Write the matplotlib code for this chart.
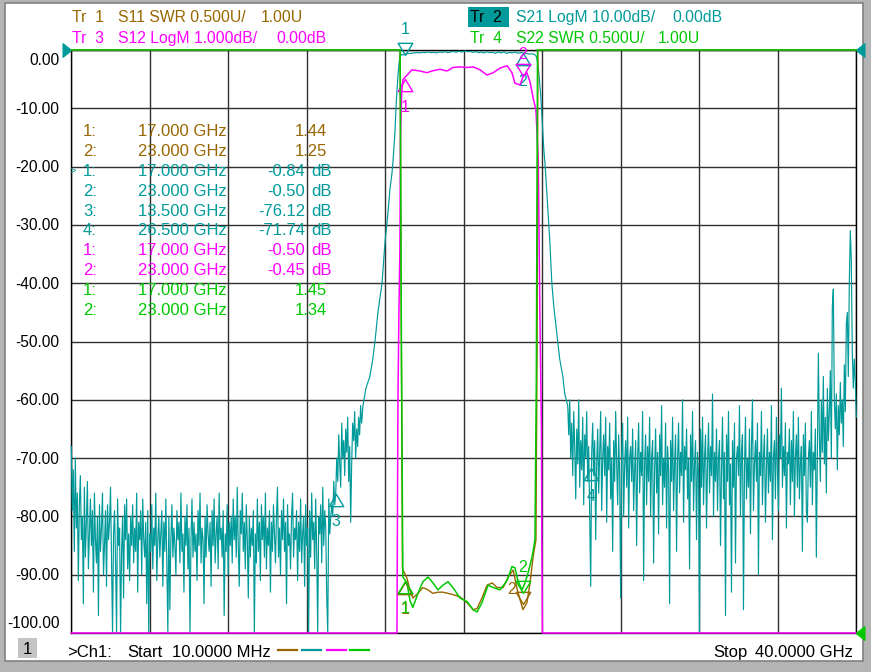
import numpy as np
import matplotlib
matplotlib.use("Agg")
import matplotlib.pyplot as plt
from matplotlib.path import Path
from matplotlib.lines import Line2D
from matplotlib.patches import Rectangle

plt.rcParams['font.family'] = ['Liberation Sans', 'DejaVu Sans']

# ---------------- data ----------------
F_START, F_STOP = 0.01, 40.0          # GHz
S21_REF, S21_DIV = 0.0, 10.0          # dB
S12_REF, S12_DIV = 0.0, 1.0           # dB
SWR_REF, SWR_DIV = 1.0, 0.5           # U

# S21 (LogM, dB) -- low band noise floor
s21_low = [
    -68, -79, -72, -86, -70, -82, -76, -91, -78, -73,
    -84, -80, -95, -75, -87, -81, -74, -89, -83, -77,
    -85, -79, -93, -76, -84, -88, -80, -97, -78, -86,
    -82, -76, -90, -85, -79, -92, -78, -84, -81, -75,
    -87, -104, -83, -79, -88, -104, -77, -85, -82, -104,
    -86, -80, -94, -78, -84, -77, -89, -83, -91, -80,
    -85, -78, -88, -82, -86, -76, -93, -81, -84, -79,
    -90, -77, -84, -87, -81, -95, -79, -104, -83, -86,
    -78, -89, -82, -85, -76, -91, -84, -80, -87, -83,
    -79, -92, -81, -86, -77, -88, -104, -80, -96, -84,
    -78, -87, -82, -85, -90, -79, -84, -81, -88, -76,
    -86, -83, -93, -80, -85, -78, -89, -82, -104, -84,
    -77, -87, -81, -86, -83, -91, -79, -85, -76, -88,
    -82, -84, -95, -80, -87, -78, -83, -86, -81, -92,
    -79, -85, -77, -88, -83, -80, -89, -76, -84, -82,
    -87, -79, -97, -83, -86, -78, -90, -81, -85, -80,
    -88, -77, -84, -80, -87, -75, -85, -92, -79, -83,
    -76, -86, -81, -89, -78, -84, -94, -80, -87, -82,
    -85, -79, -104, -83, -88, -77, -86, -81, -91, -78,
    -84, -80, -87, -76, -89, -82, -85, -79, -93, -81,
    -86, -78, -83, -88, -80, -75, -87, -82, -90, -79,
    -84, -77, -86, -81, -95, -78, -85, -83, -89, -80,
    -76, -87, -82, -84, -79, -91, -81, -86, -77, -88,
    -83, -80, -92, -78, -85, -82, -104, -79, -87, -76,
    -84, -81, -89, -77, -86, -104, -80, -83, -78, -88,
    -75, -85, -79, -82, -94, -104, -77, -83, -80, -78,
]
s21_low_f = (0.01, 13.28)
# step region below the lower skirt
s21_step = [-80, -74, -78, -76, -70, -74, -66, -71, -75, -64,
            -70, -67, -73, -65, -69, -63, -74, -68, -81, -71,
            -64, -67, -62, -70, -65, -68, -63, -66, -61, -64]
s21_step_f = (13.33, 14.80)
# lower skirt
s21_lskirt_f = [14.87, 15.02, 15.22, 15.37, 15.48, 15.63, 15.84, 15.99, 16.14, 16.24,
                16.35, 16.40, 16.50, 16.55, 16.60, 16.65, 16.70, 16.75, 16.82]
s21_lskirt = [-61, -58, -56, -53, -50, -45, -40, -33, -28, -24,
              -21, -19, -14, -10, -7, -4.5, -2.5, -1.2, -0.8]
# passband
s21_pass = [-0.85, -0.7, -0.6, -0.55, -0.5, -0.45, -0.5, -0.4, -0.45, -0.35,
            -0.45, -0.4, -0.5, -0.35, -0.4, -0.3, -0.45, -0.35, -0.25, -0.4,
            -0.2, -0.35, -0.15, -0.3, -0.25, -0.4, -0.3, -0.45, -0.35, -0.5,
            -0.3, -0.45, -0.4, -0.55, -0.35, -0.5, -0.3, -0.6, -0.4, -0.5,
            -0.35, -0.55, -0.45, -0.5, -0.6, -0.7, -0.65, -0.8]
s21_pass_f = (16.90, 23.62)
# upper skirt
s21_uskirt_f = [23.68, 23.73, 23.78, 23.83, 23.88, 23.93, 23.98, 24.03, 24.08, 24.13,
                24.19, 24.29, 24.39, 24.49, 24.59, 24.69, 24.79, 24.89, 25.05, 25.15]
s21_uskirt = [-1.0, -1.5, -2.5, -4, -6, -8, -11, -14, -17, -19,
              -22, -27.5, -33, -40, -44, -47, -50, -53, -56, -59]
# high band noise floor
s21_high = [
    -61, -66, -60, -70, -64, -73, -62, -68, -77, -65,
    -71, -60, -75, -67, -72, -63, -78, -66, -70, -62,
    -74, -68, -80, -92, -69, -64, -73, -67, -84, -71,
    -65, -76, -69, -62, -79, -70, -66, -73, -63, -81,
    -68, -72, -64, -77, -70, -86, -67, -74, -62, -71,
    -78, -66, -73, -94, -69, -64, -80, -71, -67, -75,
    -63, -82, -70, -68, -74, -65, -79, -72, -67, -85,
    -70, -64, -76, -69, -73, -62, -91, -71, -66, -78,
    -68, -74, -63, -80, -70, -67, -88, -72, -65, -76,
    -69, -83, -66, -73, -61, -78, -70, -75, -64, -82,
    -68, -72, -95, -67, -74, -63, -79, -71, -66, -86,
    -70, -64, -76, -69, -73, -60, -81, -68, -72, -65,
    -77, -70, -89, -66, -74, -62, -79, -71, -67, -84,
    -69, -73, -100, -65, -75, -63, -78, -70, -66, -82,
    -71, -64, -76, -68, -73, -59, -80, -69, -74, -65,
    -79, -70, -67, -85, -72, -63, -77, -69, -97, -66,
    -74, -62, -78, -71, -93, -67, -75, -64, -88, -70,
    -68, -73, -61, -80, -69, -66, -96, -72, -63, -77,
    -70, -75, -65, -83, -68, -60, -79, -71, -67, -74,
    -64, -90, -69, -73, -62, -78, -70, -66, -81, -72,
    -65, -76, -69, -74, -61, -84, -70, -67, -77, -63,
    -72, -79, -66, -70, -58, -75, -68, -73, -64, -82,
    -69, -71, -65, -78, -67, -74, -62, -80, -70, -66,
    -75, -63, -77, -71, -68, -86, -66, -73, -64, -79,
    -81, -70, -67, -75, -62, -78, -69, -72, -65, -87,
    -70, -52, -66, -74, -60, -69, -56, -71, -63, -76,
    -58, -67, -62, -55, -70, -44, -41, -60, -65, -59,
    -72, -61, -66, -57, -64, -60, -68, -54, -62, -47,
    -45, -56, -40, -31, -36, -52, -58, -53, -57, -63,
]
s21_high_f = (25.30, 40.0)

# S12 (LogM, dB)
s12_f = [0.01, 16.60, 16.65, 16.70, 16.75, 16.78, 16.84, 16.90, 17.36, 17.77,
         18.13, 18.38, 18.79, 19.15, 19.45, 19.81, 20.17, 20.48, 20.83, 21.19,
         21.50, 21.85, 22.21, 22.46, 22.61, 22.87, 23.02, 23.22, 23.38, 23.53,
         23.68, 23.73, 23.80, 23.88, 23.96, 23.98, 24.01, 40.0]
s12_db = [-30, -30, -6.0, -4.5, -3.4, -1.5, -0.71, -0.51, -0.34, -0.36,
          -0.39, -0.36, -0.33, -0.36, -0.30, -0.29, -0.30, -0.29, -0.34, -0.43,
          -0.39, -0.31, -0.27, -0.39, -0.57, -0.60, -0.46, -0.39, -0.55, -0.81,
          -1.03, -1.4, -1.9, -4.5, -6.5, -8.4, -30, -30]

# S11 (SWR)
s11_f = [0.01, 16.76, 16.82, 16.88, 17.11, 17.26, 17.41, 17.67, 17.92, 18.18,
         18.43, 18.69, 18.94, 19.20, 19.45, 19.81, 20.17, 20.48, 20.68, 20.93,
         21.19, 21.45, 21.70, 22.01, 22.27, 22.52, 22.73, 22.88, 23.02, 23.22,
         23.38, 23.53, 23.68, 23.74, 23.78, 40.0]
s11_swr = [9, 9, 3.6, 1.55, 1.47, 1.37, 1.30, 1.34, 1.39, 1.37,
           1.34, 1.35, 1.35, 1.34, 1.33, 1.31, 1.26, 1.20, 1.21, 1.30,
           1.41, 1.43, 1.39, 1.39, 1.48, 1.54, 1.37, 1.28, 1.20, 1.26,
           1.43, 1.65, 1.80, 3.5, 9, 9]

# S22 (SWR)
s22_f = [0.01, 16.76, 16.83, 16.90, 17.11, 17.26, 17.41, 17.67, 17.92, 18.18,
         18.43, 18.69, 18.94, 19.20, 19.45, 19.81, 20.17, 20.48, 20.68, 20.93,
         21.24, 21.50, 21.85, 22.21, 22.46, 22.61, 22.76, 22.97, 23.12, 23.27,
         23.48, 23.63, 23.70, 23.76, 40.0]
s22_swr = [9, 9, 3.4, 1.48, 1.43, 1.28, 1.22, 1.34, 1.44, 1.48,
           1.43, 1.37, 1.41, 1.44, 1.39, 1.30, 1.27, 1.20, 1.18, 1.26,
           1.41, 1.39, 1.37, 1.45, 1.57, 1.56, 1.45, 1.37, 1.43, 1.51,
           1.65, 1.80, 3.2, 9, 9]

# markers
mk_s11_f, mk_s11_v = [17.0, 23.0], [1.44, 1.25]
mk_s21_f, mk_s21_v = [17.0, 23.0, 13.5, 26.5], [-0.84, -0.50, -76.12, -71.74]
mk_s12_f, mk_s12_v = [17.0, 23.0], [-0.50, -0.45]
mk_s22_f, mk_s22_v = [17.0, 23.0], [1.45, 1.34]

ytick_vals = [0, -10, -20, -30, -40, -50, -60, -70, -80, -90, -100]

# ---------------- style ----------------
BROWN = '#986600'
TEAL = '#009A9A'
MAG = '#FF00FF'
GREEN = '#00C800'
GRIDC = '#303030'

W, H = 871, 672
fig = plt.figure(figsize=(W / 100, H / 100), dpi=100)
fig.patch.set_facecolor('#b4b4b4')
fig.add_artist(Rectangle((5 / W, 1 - 661 / H), 858 / W, 658 / H, transform=fig.transFigure,
                         facecolor='white', edgecolor='#808080', lw=1.2, zorder=0))


def ftext(x, yc, s, size, color, ha='left', **kw):
    em = size * 100 / 72
    yb = yc + 0.358 * em
    return fig.text(x / W, 1 - yb / H, s, fontsize=size, color=color, ha=ha, va='baseline', **kw)


ax = fig.add_axes([71.3 / W, 1 - 633 / H, 785 / W, 583 / H])
ax.set_facecolor('white')
ax.set_xlim(F_START, F_STOP)
ax.set_ylim(S21_REF - 10 * S21_DIV, S21_REF)
ax.set_xticks(np.linspace(F_START, F_STOP, 11))
ax.set_yticks(ytick_vals)
ax.grid(True, color=GRIDC, lw=1.0)
ax.tick_params(length=0, labelbottom=False, labelleft=False)
for sp in ax.spines.values():
    sp.set_color('black')
    sp.set_linewidth(1.0)

ax12 = ax.twinx()
ax12.set_ylim(S12_REF - 10 * S12_DIV, S12_REF)
ax12.set_axis_off()
axswr = ax.twinx()
axswr.set_ylim(SWR_REF, SWR_REF + 10 * SWR_DIV)
axswr.set_axis_off()

# y labels
em_y = 11.2 * 100 / 72
for v in ytick_vals:
    dc = 0.0
    if v == 0:
        dc = 9.5
    elif v == -100:
        dc = -11.0
    ax.annotate(f"{v:.2f}", xy=(0, v), xycoords=ax.get_yaxis_transform(),
                xytext=(-12 * 0.72, -(dc + 0.358 * em_y) * 0.72), textcoords='offset points',
                ha='right', va='baseline', fontsize=11.2, color='black', annotation_clip=False)

# S21 trace
f21 = np.concatenate([
    np.linspace(*s21_low_f, len(s21_low)),
    np.linspace(*s21_step_f, len(s21_step)),
    np.array(s21_lskirt_f),
    np.linspace(*s21_pass_f, len(s21_pass)),
    np.array(s21_uskirt_f),
    np.linspace(*s21_high_f, len(s21_high)),
])
v21 = np.concatenate([s21_low, s21_step, s21_lskirt, s21_pass, s21_uskirt, s21_high]).astype(float)
lo21, hi21 = ax.get_ylim()
ax.plot(f21, np.clip(v21, lo21, hi21), color=TEAL, lw=0.85, clip_on=False, zorder=3)

lo12, hi12 = ax12.get_ylim()
ax12.plot(s12_f, np.clip(s12_db, lo12, hi12), color=MAG, lw=1.1, clip_on=False, zorder=3)

los, his = axswr.get_ylim()
axswr.plot(s11_f, np.clip(s11_swr, los, his), color=BROWN, lw=1.0, clip_on=False, zorder=3)
axswr.plot(s22_f, np.clip(s22_swr, los, his), color=GREEN, lw=1.1, clip_on=False, zorder=4)

# marker glyphs
DOWN = Path([(-0.6, 1.0), (0.6, 1.0), (0, 0), (-0.6, 1.0)],
            [Path.MOVETO, Path.LINETO, Path.LINETO, Path.CLOSEPOLY])
UP = Path([(-0.6, -1.0), (0.6, -1.0), (0, 0), (-0.6, -1.0)],
          [Path.MOVETO, Path.LINETO, Path.LINETO, Path.CLOSEPOLY])


def marker(axm, f, v, color, direction, label, zo=6, gap=27, dx=0):
    mk = DOWN if direction == 'down' else UP
    axm.plot([f], [v], ls='none', marker=mk, ms=17.5, mfc='none', mec=color, mew=1.0,
             clip_on=False, zorder=zo)
    em = 11.5 * 100 / 72
    dc = -gap if direction == 'down' else gap
    axm.annotate(label, xy=(f, v), xytext=(dx * 0.72, -(dc + 0.358 * em) * 0.72), textcoords='offset points',
                 ha='center', va='baseline', fontsize=11.5, color=color, annotation_clip=False, zorder=zo)


s11_dirs = ['up', 'down']
s21_dirs = ['down', 'up', 'up', 'up']
s12_dirs = ['up', 'down']
s22_dirs = ['up', 'down']
s11_gaps = [27, 16]
s12_gaps = [27, 23]
for i, (f, v) in enumerate(zip(mk_s11_f, mk_s11_v)):
    marker(axswr, f, v, BROWN, s11_dirs[i], str(i + 1), zo=5, gap=s11_gaps[i], dx=-11 * i)
for i, (f, v) in enumerate(zip(mk_s21_f, mk_s21_v)):
    marker(ax, f, v, TEAL, s21_dirs[i], str(i + 1))
for i, (f, v) in enumerate(zip(mk_s12_f, mk_s12_v)):
    marker(ax12, f, v, MAG, s12_dirs[i], str(i + 1), gap=s12_gaps[i])
for i, (f, v) in enumerate(zip(mk_s22_f, mk_s22_v)):
    marker(axswr, f, v, GREEN, s22_dirs[i], str(i + 1), zo=7)

# reference position arrows at the edges
RIGHTP = Path([(-1, 0.8), (0, 0), (-1, -0.8), (-1, 0.8)],
              [Path.MOVETO, Path.LINETO, Path.LINETO, Path.CLOSEPOLY])
LEFTP = Path([(1, 0.8), (0, 0), (1, -0.8), (1, 0.8)],
             [Path.MOVETO, Path.LINETO, Path.LINETO, Path.CLOSEPOLY])
ax.plot([0], [S21_REF], transform=ax.get_yaxis_transform(), marker=RIGHTP, ms=12, color=TEAL,
        mec=TEAL, ls='none', clip_on=False, zorder=8)
ax.plot([1], [S21_REF], transform=ax.get_yaxis_transform(), marker=LEFTP, ms=12, color=TEAL,
        mec=TEAL, ls='none', clip_on=False, zorder=8)
axswr.plot([1], [SWR_REF], transform=axswr.get_yaxis_transform(), marker=LEFTP, ms=12, color=GREEN,
           mec=GREEN, ls='none', clip_on=False, zorder=8)

# header
HS = 11.3
ftext(72, 16, "Tr  1", HS, BROWN)
ftext(118, 16, "S11 SWR 0.500U/", HS, BROWN)
ftext(261, 16, "1.00U", HS, BROWN)
ftext(72, 37, "Tr  3", HS, MAG)
ftext(118, 37, "S12 LogM 1.000dB/", HS, MAG)
ftext(276, 37, "0.00dB", HS, MAG)
fig.add_artist(Rectangle((468 / W, 1 - 27 / H), 41 / W, 20 / H, transform=fig.transFigure,
                         facecolor=TEAL, edgecolor='none', zorder=1))
ftext(470, 16, "Tr  2", HS, 'black')
ftext(516, 16, "S21 LogM 10.00dB/", HS, TEAL)
ftext(672, 16, "0.00dB", HS, TEAL)
ftext(470, 37, "Tr  4", HS, GREEN)
ftext(516, 37, "S22 SWR 0.500U/", HS, GREEN)
ftext(658, 37, "1.00U", HS, GREEN)

# marker readout table
LS = 12
rows = []
for i, (f, v) in enumerate(zip(mk_s11_f, mk_s11_v)):
    rows.append((BROWN, i + 1, f, f"{v:.2f}", None))
for i, (f, v) in enumerate(zip(mk_s21_f, mk_s21_v)):
    rows.append((TEAL, i + 1, f, f"{v:.2f}", "dB"))
for i, (f, v) in enumerate(zip(mk_s12_f, mk_s12_v)):
    rows.append((MAG, i + 1, f, f"{v:.2f}", "dB"))
for i, (f, v) in enumerate(zip(mk_s22_f, mk_s22_v)):
    rows.append((GREEN, i + 1, f, f"{v:.2f}", None))
for r, (col, n, f, val, unit) in enumerate(rows):
    yc = 130 + 19.9 * r
    ftext(83, yc, f"{n}:", LS, col)
    ftext(227, yc, f"{f:.3f} GHz", LS, col, ha='right')
    if unit:
        ftext(305, yc, val, LS, col, ha='right')
        ftext(311, yc, unit, LS, col)
    else:
        ftext(327, yc, val, LS, col, ha='right')
ftext(69, 130 + 19.9 * 2, ">", 8, TEAL)

# footer
fig.add_artist(Rectangle((18 / W, 1 - 658 / H), 19 / W, 20 / H, transform=fig.transFigure,
                         facecolor='#c4c4c4', edgecolor='none', zorder=1))
ftext(27.5, 648, "1", 12, 'black', ha='center')
ftext(67, 651, ">Ch1:", 12, 'black')
ftext(127, 651, "Start", 12, 'black')
ftext(172, 651, "10.0000 MHz", 12, 'black')
ftext(713, 651, "Stop", 12, 'black')
ftext(853, 651, "40.0000 GHz", 12, 'black', ha='right')
for (x0, x1), col in zip([(278, 297), (302, 321), (327, 346), (350, 369)], [BROWN, TEAL, MAG, GREEN]):
    fig.add_artist(Line2D([x0 / W, x1 / W], [1 - 650 / H, 1 - 650 / H], transform=fig.transFigure,
                          color=col, lw=1.6))

fig.savefig("out.png", dpi=100, facecolor=fig.get_facecolor())
